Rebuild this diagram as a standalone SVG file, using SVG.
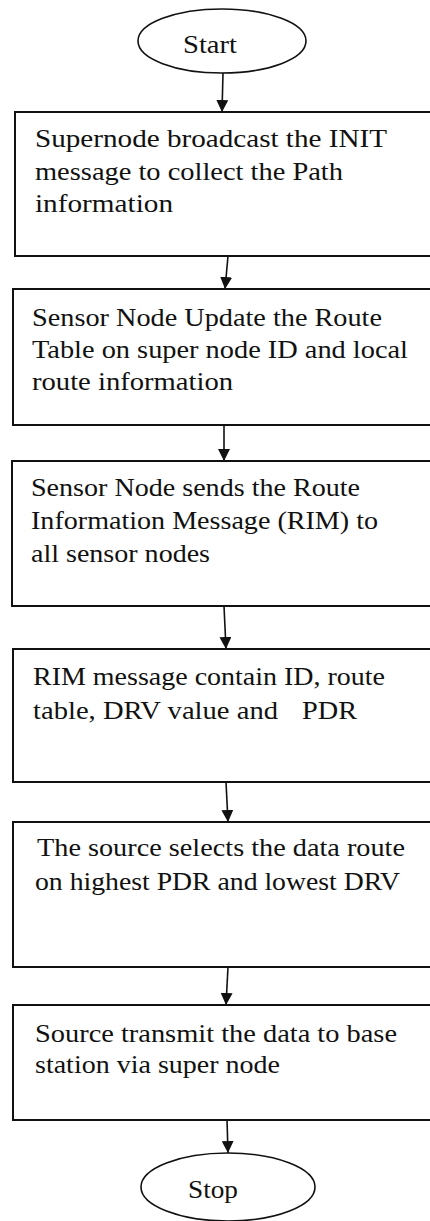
<svg xmlns="http://www.w3.org/2000/svg" width="430" height="1221" viewBox="0 0 430 1221">
<defs>
<style>
.box{fill:#fff;stroke:#111;stroke-width:2}
.term{fill:#fff;stroke:#111;stroke-width:1.6}
.t{font-family:"Liberation Serif","Times New Roman",serif;font-size:25px;fill:#111}
.conn{stroke:#111;stroke-width:1.6;fill:none;marker-end:url(#ah)}
</style>
<marker id="ah" viewBox="0 0 10 10" refX="10" refY="5" markerWidth="12" markerHeight="12" markerUnits="userSpaceOnUse" orient="auto">
<path d="M0,0 L10,5 L0,10 Z" fill="#111"/>
</marker>
</defs>
<rect width="430" height="1221" fill="#fff"/>
<g id="connectors">
<line class="conn" x1="223" y1="73" x2="222" y2="112"/>
<line class="conn" x1="228" y1="256" x2="225" y2="289"/>
<line class="conn" x1="224" y1="425" x2="224" y2="461"/>
<line class="conn" x1="224" y1="606" x2="226" y2="649"/>
<line class="conn" x1="226" y1="782" x2="228" y2="822"/>
<line class="conn" x1="228" y1="967" x2="226" y2="1005"/>
<line class="conn" x1="227" y1="1120" x2="228" y2="1153"/>
</g>
<g id="start">
<ellipse class="term" cx="222" cy="41" rx="84" ry="32"/>
<text class="t" x="183" y="53" textLength="54" lengthAdjust="spacingAndGlyphs">Start</text>
</g>
<g id="step1">
<rect class="box" x="15" y="112" width="430" height="144"/>
<text class="t" x="35" y="147" textLength="352" lengthAdjust="spacingAndGlyphs">Supernode broadcast the INIT</text>
<text class="t" x="35" y="180" textLength="308" lengthAdjust="spacingAndGlyphs">message to collect the Path</text>
<text class="t" x="35" y="212" textLength="138" lengthAdjust="spacingAndGlyphs">information</text>
</g>
<g id="step2">
<rect class="box" x="13" y="289" width="430" height="136"/>
<text class="t" x="32" y="326" textLength="350" lengthAdjust="spacingAndGlyphs">Sensor Node Update the Route</text>
<text class="t" x="32" y="358" textLength="376" lengthAdjust="spacingAndGlyphs">Table on super node ID and local</text>
<text class="t" x="32" y="390" textLength="201" lengthAdjust="spacingAndGlyphs">route information</text>
</g>
<g id="step3">
<rect class="box" x="12" y="461" width="430" height="145"/>
<text class="t" x="31" y="496" textLength="329" lengthAdjust="spacingAndGlyphs">Sensor Node sends the Route</text>
<text class="t" x="31" y="529" textLength="347" lengthAdjust="spacingAndGlyphs">Information Message (RIM) to</text>
<text class="t" x="31" y="562" textLength="179" lengthAdjust="spacingAndGlyphs">all sensor nodes</text>
</g>
<g id="step4">
<rect class="box" x="13" y="649" width="430" height="133"/>
<text class="t" x="33" y="685" textLength="352" lengthAdjust="spacingAndGlyphs">RIM message contain ID, route</text>
<text class="t" x="33" y="719" textLength="245" lengthAdjust="spacingAndGlyphs">table, DRV value and</text>
<text class="t" x="302" y="719" textLength="55" lengthAdjust="spacingAndGlyphs">PDR</text>
</g>
<g id="step5">
<rect class="box" x="13" y="822" width="430" height="145"/>
<text class="t" x="37" y="856" textLength="368" lengthAdjust="spacingAndGlyphs">The source selects the data route</text>
<text class="t" x="35" y="890" textLength="365" lengthAdjust="spacingAndGlyphs">on highest PDR and lowest DRV</text>
</g>
<g id="step6">
<rect class="box" x="13" y="1005" width="430" height="115"/>
<text class="t" x="35" y="1042" textLength="362" lengthAdjust="spacingAndGlyphs">Source transmit the data to base</text>
<text class="t" x="35" y="1073" textLength="245" lengthAdjust="spacingAndGlyphs">station via super node</text>
</g>
<g id="stop">
<ellipse class="term" cx="228" cy="1187" rx="87" ry="34"/>
<text class="t" x="188" y="1198" textLength="50" lengthAdjust="spacingAndGlyphs">Stop</text>
</g>
</svg>
